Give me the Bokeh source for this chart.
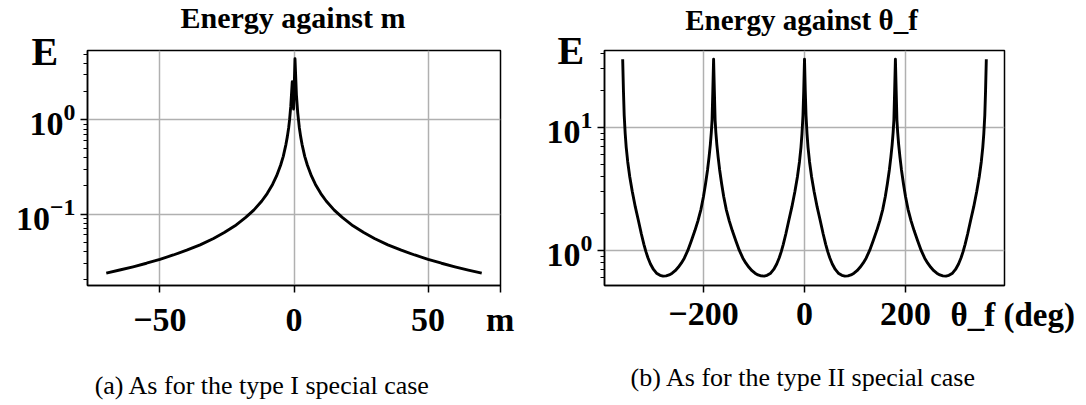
from bokeh.plotting import figure
from bokeh.models import Range1d, FixedTicker, Label
from bokeh.layouts import row
from bokeh.embed import file_html
from bokeh.resources import INLINE

# ---------------- data ----------------
# panel (a): energy against m
m_vals = [-70, -65, -60, -55, -50, -45, -40, -35, -30, -26, -22, -18, -15, -12, -10,
          -8, -6.5, -5, -4, -3, -2.5, -2, -1.65, -1.2, -0.65, -0.15, 0.37, 0.9, 1.4, 2,
          2.5, 3, 4, 5, 6.5, 8, 10, 12, 15, 18, 22, 26, 30, 35, 40, 45, 50, 55, 60, 65, 70]
energy_m = [0.0236, 0.0254, 0.0275, 0.030, 0.033, 0.0367, 0.0413, 0.047, 0.055, 0.0635,
            0.075, 0.092, 0.11, 0.1375, 0.165, 0.206, 0.254, 0.33, 0.41, 0.55, 0.66, 0.82,
            1.0, 1.4, 2.54, 1.3, 4.46, 1.85, 1.18, 0.82, 0.66, 0.55, 0.41, 0.33, 0.254,
            0.206, 0.165, 0.1375, 0.11, 0.092, 0.075, 0.0635, 0.055, 0.047, 0.0413, 0.0367,
            0.033, 0.030, 0.0275, 0.0254, 0.0236]

# panel (b): energy against theta_f (deg), one list per well
theta_w1 = [-360, -358.5, -357, -355, -353, -350, -346, -341, -335, -329, -323, -318, -314,
            -310, -305, -299, -293, -286, -280, -274, -268, -262, -256, -250, -244, -238,
            -231, -224, -217, -211, -205, -200, -196, -192, -189, -186.5, -184.5, -183,
            -181.5, -180]
energy_w1 = [36, 20, 12.6, 8.9, 6.9, 5.25, 3.98, 3.02, 2.26, 1.76, 1.36, 1.12, 0.977,
             0.871, 0.776, 0.70, 0.653, 0.627, 0.618, 0.621, 0.632, 0.653, 0.684, 0.728,
             0.787, 0.865, 1.0, 1.2, 1.45, 1.74, 2.16, 2.75, 3.47, 4.52, 5.75, 7.24, 9.12,
             11.5, 20, 36]
theta_w2 = [-178.5, -177, -175.5, -173.5, -171, -168, -164, -160, -155, -149, -143, -136,
            -129, -122, -116, -110, -104, -98, -92, -86, -80, -74, -67, -61, -55, -50, -46,
            -42, -37, -31, -25, -19, -14, -10, -7, -5, -3, -1.5, 0]
energy_w2 = [20, 11.5, 9.12, 7.24, 5.75, 4.52, 3.47, 2.75, 2.16, 1.74, 1.45, 1.2, 1.0,
             0.865, 0.787, 0.728, 0.684, 0.653, 0.632, 0.621, 0.618, 0.627, 0.653, 0.70,
             0.776, 0.871, 0.977, 1.12, 1.36, 1.76, 2.26, 3.02, 3.98, 5.25, 6.9, 8.9, 12.6,
             20, 36]
theta_w3 = [1.5, 3, 5, 7, 10, 14, 19, 25, 31, 37, 42, 46, 50, 55, 61, 67, 74, 80, 86, 92,
            98, 104, 110, 116, 122, 129, 136, 143, 149, 155, 160, 164, 168, 171, 173.5,
            175.5, 177, 178.5, 180]
energy_w3 = [20, 12.6, 8.9, 6.9, 5.25, 3.98, 3.02, 2.26, 1.76, 1.36, 1.12, 0.977, 0.871,
             0.776, 0.70, 0.653, 0.627, 0.618, 0.621, 0.632, 0.653, 0.684, 0.728, 0.787,
             0.865, 1.0, 1.2, 1.45, 1.74, 2.16, 2.75, 3.47, 4.52, 5.75, 7.24, 9.12, 11.5,
             20, 36]
theta_w4 = [181.5, 183, 184.5, 186.5, 189, 192, 196, 200, 205, 211, 217, 224, 231, 238,
            244, 250, 256, 262, 268, 274, 280, 286, 293, 299, 305, 310, 314, 318, 323, 329,
            335, 341, 346, 350, 353, 355, 357, 358.5, 360]
energy_w4 = [20, 11.5, 9.12, 7.24, 5.75, 4.52, 3.47, 2.75, 2.16, 1.74, 1.45, 1.2, 1.0,
             0.865, 0.787, 0.728, 0.684, 0.653, 0.632, 0.621, 0.618, 0.627, 0.653, 0.70,
             0.776, 0.871, 0.977, 1.12, 1.36, 1.76, 2.26, 3.02, 3.98, 5.25, 6.9, 8.9, 12.6,
             20, 36]
theta_f = theta_w1 + theta_w2 + theta_w3 + theta_w4
energy_theta = energy_w1 + energy_w2 + energy_w3 + energy_w4

# ticks / labels ("m" is the axis name, written at the right end of the m axis)
m_ticks = [-50, 0, 50, 76.9]
m_tick_labels = ["\u221250", "0", "50", "m"]
m_grid = [-50, 0, 50]
theta_ticks = [-200, 0, 200]
theta_tick_labels = ["\u2212200", "0", "200"]
a_log_ticks = [0.1, 1]
b_log_ticks = [1, 10]
a_minor = [0.02, 0.03, 0.04, 0.05, 0.06, 0.07, 0.08, 0.09,
           0.2, 0.3, 0.4, 0.5, 0.6, 0.7, 0.8, 0.9, 2, 3, 4, 5]
b_minor = [0.6, 0.7, 0.8, 0.9, 2, 3, 4, 5, 6, 7, 8, 9, 20, 30, 40]

FONT = "Liberation Serif"


def txt(p, text, x, y, size, side, bold=True, align="left"):
    p.add_layout(Label(x=x, y=y, x_units="screen", y_units="screen", text=text,
                       text_font=FONT, text_font_size=f"{size}px",
                       text_font_style="bold" if bold else "normal",
                       text_color="black", text_align=align,
                       text_baseline="alphabetic"), side)


def panel(xs, ys, xr, yr, xticks, xlabels, xgrid, yticks, yminor,
          w, h, bl, br, bt, bb, xstand):
    p = figure(width=w, height=h, x_range=Range1d(*xr),
               y_range=Range1d(*yr), y_axis_type="log",
               output_backend="svg", toolbar_location=None,
               min_border_left=bl, min_border_right=br,
               min_border_top=bt, min_border_bottom=bb)
    p.background_fill_color = "white"
    p.border_fill_color = "white"
    p.outline_line_color = "black"
    p.outline_line_width = 1.5
    p.outline_line_alpha = 1.0

    p.line(xs, ys, line_color="black", line_width=2.9, line_join="round")

    p.xaxis.ticker = FixedTicker(ticks=xticks, minor_ticks=[])
    p.yaxis.ticker = FixedTicker(ticks=yticks, minor_ticks=yminor)
    p.xgrid.ticker = FixedTicker(ticks=xgrid, minor_ticks=[])
    p.ygrid.ticker = FixedTicker(ticks=yticks, minor_ticks=[])
    for g in (p.xgrid, p.ygrid):
        g.grid_line_color = "#b0b0b0"
        g.grid_line_width = 1.5
    for ax in (p.xaxis, p.yaxis):
        ax.axis_line_color = "black"
        ax.axis_line_width = 1.5
        ax.major_tick_line_color = "black"
        ax.major_tick_line_width = 1.5
        ax.major_tick_out = 7
        ax.major_tick_in = 0
        ax.minor_tick_line_color = "black"
        ax.minor_tick_line_width = 1.2
        ax.minor_tick_out = 4
        ax.minor_tick_in = 0
        ax.major_label_text_font = FONT
        ax.major_label_text_font_size = "34px"
        ax.major_label_text_font_style = "bold"
        ax.major_label_text_color = "black"
    p.xaxis.minor_tick_line_color = None
    p.xaxis.major_label_standoff = xstand
    p.yaxis.major_label_standoff = 5
    p.xaxis.major_label_overrides = {t: lab for t, lab in zip(xticks, xlabels)}
    return p


# left panel: frame x 87..500, y 50..293
pa = panel(m_vals, energy_m, (-77, 77), (0.0174, 5.46), m_ticks, m_tick_labels, m_grid,
           a_log_ticks, a_minor, w=543, h=405, bl=87, br=43, bt=50, bb=112, xstand=8)
txt(pa, "Energy against m", 205.5, 33, 30, "above", align="center")
txt(pa, "E", -469, 234, 40, "right")
txt(pa, "(a) As for the type I special case", 175, -16, 26, "below", bold=False,
    align="center")

# right panel: frame x 601..1004, y 44..285
pb = panel(theta_f, energy_theta, (-396, 396), (0.518, 42.4), theta_ticks,
           theta_tick_labels, theta_ticks, b_log_ticks, b_minor, w=542, h=405, bl=58,
           br=81, bt=44, bb=120, xstand=10)
txt(pb, "Energy against \u03b8_f", 197, 31, 29, "above", align="center")
txt(pb, "E", -447, 235, 40, "right")
txt(pb, "\u03b8_f (deg)", 346, 49, 33, "below")
txt(pb, "(b) As for the type II special case", 199, 15, 26, "below", bold=False,
    align="center")

layout = row(pa, pb)
open("out.html", "w").write(file_html(layout, INLINE))
